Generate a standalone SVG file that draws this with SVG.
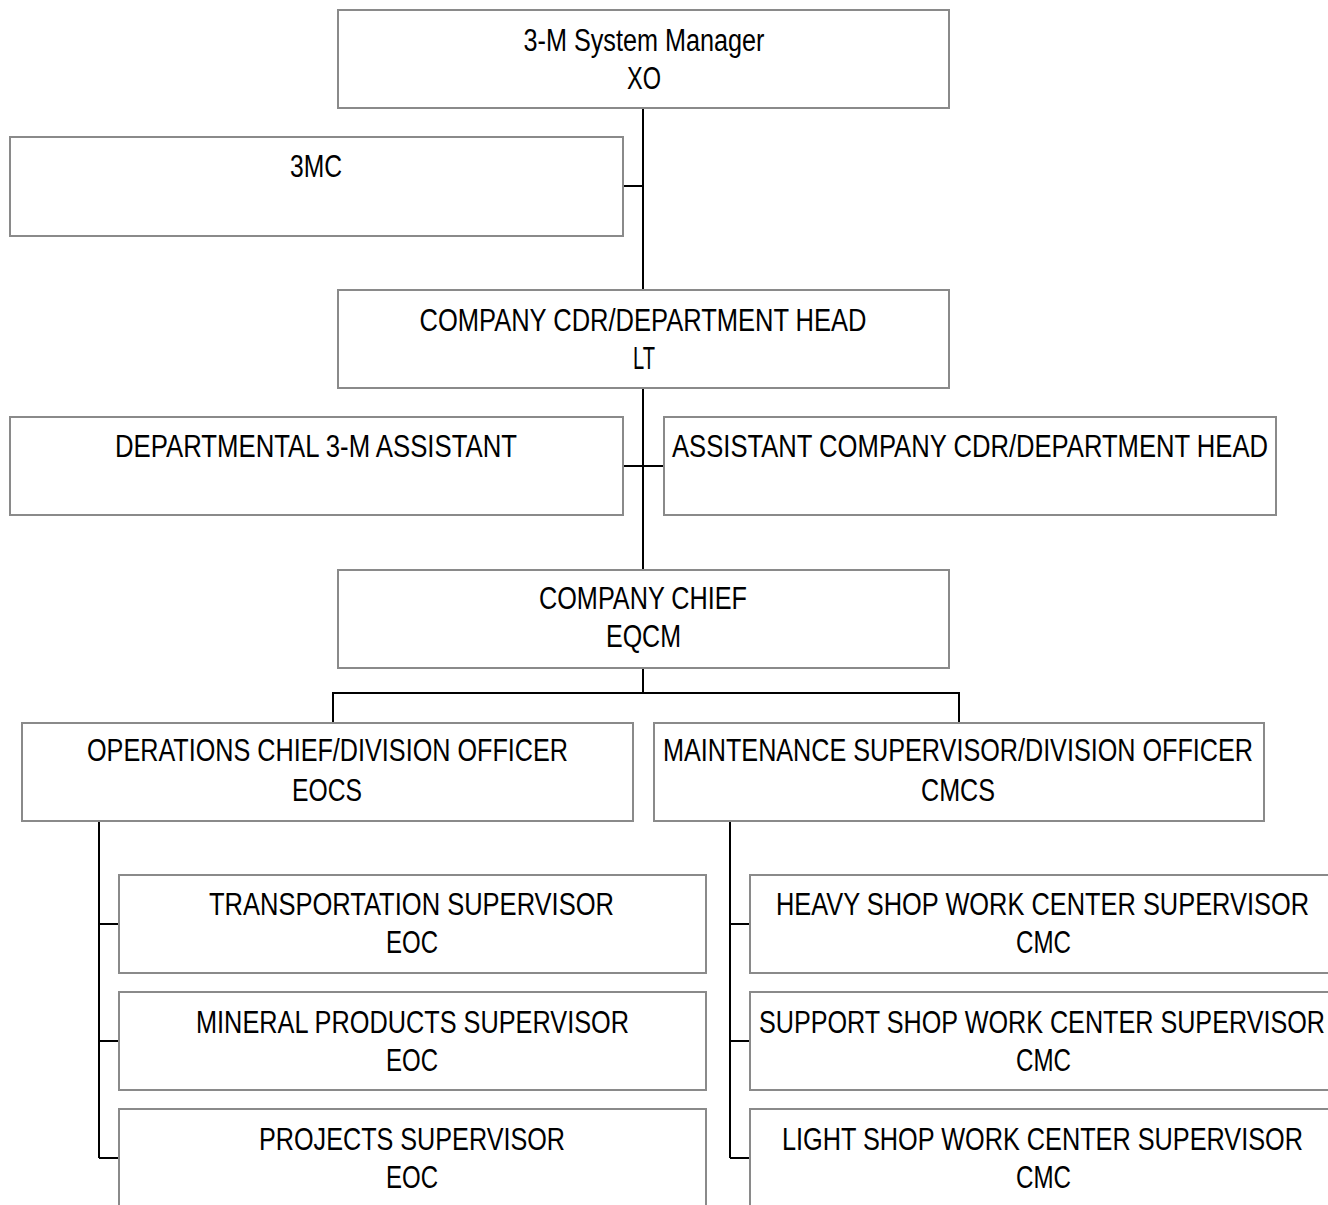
<svg xmlns="http://www.w3.org/2000/svg" width="1328" height="1205" viewBox="0 0 1328 1205">
  <style>
    .box { fill: #ffffff; stroke: #8a8a8a; stroke-width: 2; }
    .lbl { font-family: "Liberation Sans Narrow", "Liberation Sans", "Arial Narrow", sans-serif; font-size: 31px; fill: #000000; text-anchor: middle; }
    .wire { fill: none; stroke: #000000; stroke-width: 2; }
  </style>
  <rect width="1328" height="1205" fill="#ffffff"/>

  <!-- connectors -->
  <g id="connectors">
    <path class="wire" d="M643 108 V290"/>
    <path class="wire" d="M623 186 H643"/>
    <path class="wire" d="M643 388 V570"/>
    <path class="wire" d="M623 466 H664"/>
    <path class="wire" d="M643 668 V693 M333 723 V693 H959 V723"/>
    <path class="wire" d="M99 821 V1158 M99 924 H119 M99 1041 H119 M99 1158 H119"/>
    <path class="wire" d="M730 821 V1158 M730 924 H750 M730 1041 H750 M730 1158 H750"/>
  </g>

  <g id="xo">
    <rect class="box" x="338" y="10" width="611" height="98"/>
    <text class="lbl" x="644" y="51" textLength="241" lengthAdjust="spacingAndGlyphs">3-M System Manager</text>
    <text class="lbl" x="644" y="89" textLength="34" lengthAdjust="spacingAndGlyphs">XO</text>
  </g>

  <g id="three-mc">
    <rect class="box" x="10" y="137" width="613" height="99"/>
    <text class="lbl" x="316" y="177" textLength="52" lengthAdjust="spacingAndGlyphs">3MC</text>
  </g>

  <g id="company-cdr">
    <rect class="box" x="338" y="290" width="611" height="98"/>
    <text class="lbl" x="643" y="331" textLength="447" lengthAdjust="spacingAndGlyphs">COMPANY CDR/DEPARTMENT HEAD</text>
    <text class="lbl" x="644" y="369" textLength="22" lengthAdjust="spacingAndGlyphs">LT</text>
  </g>

  <g id="dept-3m-assistant">
    <rect class="box" x="10" y="417" width="613" height="98"/>
    <text class="lbl" x="316" y="457" textLength="402" lengthAdjust="spacingAndGlyphs">DEPARTMENTAL 3-M ASSISTANT</text>
  </g>

  <g id="assistant-cdr">
    <rect class="box" x="664" y="417" width="612" height="98"/>
    <text class="lbl" x="970" y="457" textLength="596" lengthAdjust="spacingAndGlyphs">ASSISTANT COMPANY CDR/DEPARTMENT HEAD</text>
  </g>

  <g id="company-chief">
    <rect class="box" x="338" y="570" width="611" height="98"/>
    <text class="lbl" x="643" y="609" textLength="208" lengthAdjust="spacingAndGlyphs">COMPANY CHIEF</text>
    <text class="lbl" x="643.5" y="647" textLength="75" lengthAdjust="spacingAndGlyphs">EQCM</text>
  </g>

  <g id="operations-chief">
    <rect class="box" x="22" y="723" width="611" height="98"/>
    <text class="lbl" x="327.5" y="761" textLength="481" lengthAdjust="spacingAndGlyphs">OPERATIONS CHIEF/DIVISION OFFICER</text>
    <text class="lbl" x="327" y="801" textLength="70" lengthAdjust="spacingAndGlyphs">EOCS</text>
  </g>

  <g id="maintenance-supervisor">
    <rect class="box" x="654" y="723" width="610" height="98"/>
    <text class="lbl" x="958" y="761" textLength="590" lengthAdjust="spacingAndGlyphs">MAINTENANCE SUPERVISOR/DIVISION OFFICER</text>
    <text class="lbl" x="958" y="801" textLength="74" lengthAdjust="spacingAndGlyphs">CMCS</text>
  </g>

  <g id="transportation-supervisor">
    <rect class="box" x="119" y="875" width="587" height="98"/>
    <text class="lbl" x="411.5" y="915" textLength="405" lengthAdjust="spacingAndGlyphs">TRANSPORTATION SUPERVISOR</text>
    <text class="lbl" x="412" y="953" textLength="52" lengthAdjust="spacingAndGlyphs">EOC</text>
  </g>

  <g id="mineral-products-supervisor">
    <rect class="box" x="119" y="992" width="587" height="98"/>
    <text class="lbl" x="412.5" y="1033" textLength="433" lengthAdjust="spacingAndGlyphs">MINERAL PRODUCTS SUPERVISOR</text>
    <text class="lbl" x="412" y="1071" textLength="52" lengthAdjust="spacingAndGlyphs">EOC</text>
  </g>

  <g id="projects-supervisor">
    <rect class="box" x="119" y="1109" width="587" height="98"/>
    <text class="lbl" x="412" y="1150" textLength="306" lengthAdjust="spacingAndGlyphs">PROJECTS SUPERVISOR</text>
    <text class="lbl" x="412" y="1188" textLength="52" lengthAdjust="spacingAndGlyphs">EOC</text>
  </g>

  <g id="heavy-shop-supervisor">
    <rect class="box" x="750" y="875" width="590" height="98"/>
    <text class="lbl" x="1042.5" y="915" textLength="533" lengthAdjust="spacingAndGlyphs">HEAVY SHOP WORK CENTER SUPERVISOR</text>
    <text class="lbl" x="1043.5" y="953" textLength="55" lengthAdjust="spacingAndGlyphs">CMC</text>
  </g>

  <g id="support-shop-supervisor">
    <rect class="box" x="750" y="992" width="590" height="98"/>
    <text class="lbl" x="1042" y="1033" textLength="566" lengthAdjust="spacingAndGlyphs">SUPPORT SHOP WORK CENTER SUPERVISOR</text>
    <text class="lbl" x="1043.5" y="1071" textLength="55" lengthAdjust="spacingAndGlyphs">CMC</text>
  </g>

  <g id="light-shop-supervisor">
    <rect class="box" x="750" y="1109" width="590" height="98"/>
    <text class="lbl" x="1042.5" y="1150" textLength="521" lengthAdjust="spacingAndGlyphs">LIGHT SHOP WORK CENTER SUPERVISOR</text>
    <text class="lbl" x="1043.5" y="1188" textLength="55" lengthAdjust="spacingAndGlyphs">CMC</text>
  </g>
</svg>
